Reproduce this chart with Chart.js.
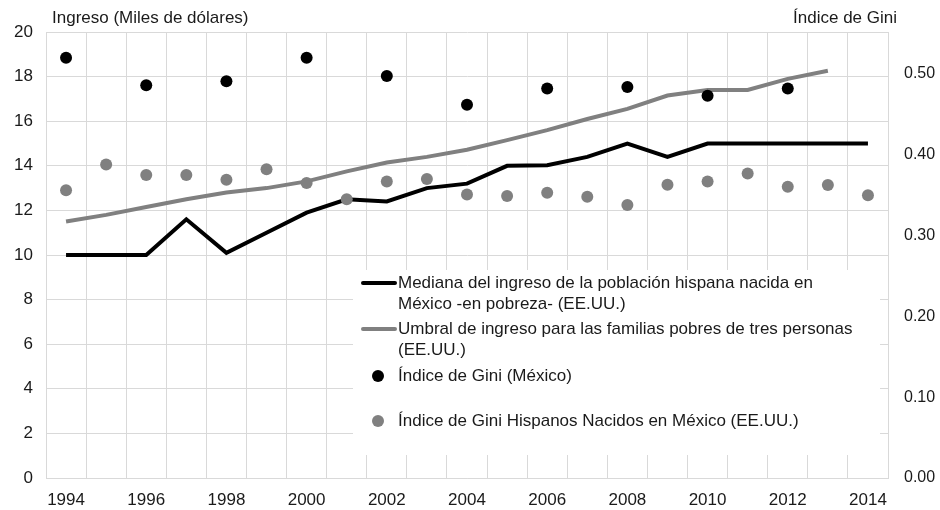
<!DOCTYPE html>
<html>
<head>
<meta charset="utf-8">
<script src="https://cdn.jsdelivr.net/npm/chart.js@4/dist/chart.umd.min.js"></script>
<style>
  html, body { margin: 0; padding: 0; background: #fff; }
  #wrap { width: 940px; height: 510px; }
</style>
</head>
<body>
<div id="wrap"><canvas id="c" width="940" height="510"></canvas></div>
<script>
'use strict';

/* ── Data ──────────────────────────────────────────────────── */
const years = [1994, 1995, 1996, 1997, 1998, 1999, 2000, 2001, 2002, 2003, 2004,
               2005, 2006, 2007, 2008, 2009, 2010, 2011, 2012, 2013, 2014];

// Miles de dólares (left axis)
const medianIncome = [10.0, 10.0, 10.0, 11.6, 10.1, 11.0, 11.9, 12.5, 12.4, 13.0, 13.2,
                      14.0, 14.03, 14.4, 15.0, 14.4, 15.0, 15.0, 15.0, 15.0, 15.0];
const povertyLine  = [11.5, 11.8, 12.15, 12.5, 12.8, 13.0, 13.3, 13.75, 14.15, 14.4, 14.72,
                      15.15, 15.6, 16.1, 16.55, 17.15, 17.4, 17.4, 17.9, 18.26, null];

// Gini (right axis)
const giniMexico   = [0.520, null, 0.486, null, 0.491, null, 0.520, null, 0.4975, null, 0.462,
                      null, 0.482, null, 0.484, null, 0.473, null, 0.482, null, null];
const giniHispanic = [0.356, 0.388, 0.375, 0.375, 0.369, 0.382, 0.365, 0.345, 0.367, 0.370, 0.351,
                      0.349, 0.353, 0.348, 0.338, 0.363, 0.367, 0.377, 0.3605, 0.3626, 0.350];

const leftTicks  = [0, 2, 4, 6, 8, 10, 12, 14, 16, 18, 20];
const rightTicks = [0, 0.1, 0.2, 0.3, 0.4, 0.5];

const legendLines = [
  ['Mediana del ingreso de la población hispana nacida en', 'México -en pobreza- (EE.UU.)'],
  ['Umbral de ingreso para las familias pobres de tres personas', '(EE.UU.)'],
  ['Índice de Gini (México)'],
  ['Índice de Gini Hispanos Nacidos en México (EE.UU.)'],
];

const FONT  = '"Liberation Sans", Arial, sans-serif';
const GRID  = '#d9d9d9';
const GRAY  = '#808080';
const INK   = '#1a1a1a';

/* ── Axis titles ───────────────────────────────────────────── */
const titlesPlugin = {
  id: 'axisTitles',
  afterDraw(ch) {
    const ctx = ch.ctx;
    ctx.save();
    ctx.font = `17px ${FONT}`;
    ctx.fillStyle = INK;
    ctx.textBaseline = 'middle';
    ctx.textAlign = 'left';
    ctx.fillText('Ingreso (Miles de dólares)', 52, 18);
    ctx.textAlign = 'right';
    ctx.fillText('Índice de Gini', 897, 18);
    ctx.restore();
  }
};

/* ── Legend box drawn inside the plot ──────────────────────── */
const legendPlugin = {
  id: 'boxLegend',
  afterDatasetsDraw(ch) {
    const ctx = ch.ctx;
    ctx.save();
    ctx.fillStyle = '#fff';
    ctx.fillRect(353, 270, 527, 185);

    ctx.font = `17px ${FONT}`;
    ctx.fillStyle = INK;
    ctx.textBaseline = 'middle';
    ctx.textAlign = 'left';

    const rows = [283, 329, 376, 421];
    ch.data.datasets.forEach((ds, i) => {
      const y = rows[i];
      if (ds.showLine === false) {
        ctx.beginPath();
        ctx.arc(378, y, 6, 0, Math.PI * 2);
        ctx.fillStyle = ds.backgroundColor;
        ctx.fill();
      } else {
        ctx.beginPath();
        ctx.strokeStyle = ds.borderColor;
        ctx.lineWidth = ds.borderWidth;
        ctx.lineCap = 'round';
        ctx.moveTo(363, y);
        ctx.lineTo(395, y);
        ctx.stroke();
      }
      ctx.fillStyle = INK;
      legendLines[i].forEach((t, k) => ctx.fillText(t, 398, y + k * 21.5));
    });
    ctx.restore();
  }
};

new Chart(document.getElementById('c').getContext('2d'), {
  type: 'line',
  data: {
    labels: years,
    datasets: [
      {
        label: legendLines[0].join(' '),
        data: medianIncome,
        yAxisID: 'y',
        borderColor: '#000',
        backgroundColor: '#000',
        borderWidth: 4,
        pointRadius: 0,
        tension: 0,
        order: 2,
      },
      {
        label: legendLines[1].join(' '),
        data: povertyLine,
        yAxisID: 'y',
        borderColor: GRAY,
        backgroundColor: GRAY,
        borderWidth: 4,
        pointRadius: 0,
        tension: 0,
        order: 3,
      },
      {
        label: legendLines[2].join(' '),
        data: giniMexico,
        yAxisID: 'y1',
        showLine: false,
        borderColor: '#000',
        backgroundColor: '#000',
        pointRadius: 6,
        pointBorderWidth: 0,
        order: 1,
      },
      {
        label: legendLines[3].join(' '),
        data: giniHispanic,
        yAxisID: 'y1',
        showLine: false,
        borderColor: GRAY,
        backgroundColor: GRAY,
        pointRadius: 6,
        pointBorderWidth: 0,
        order: 0,
      },
    ]
  },
  plugins: [legendPlugin, titlesPlugin],
  options: {
    responsive: false,
    animation: false,
    events: [],
    layout: { padding: { top: 32, left: 0, right: 0, bottom: 0 } },
    plugins: { legend: { display: false }, tooltip: { enabled: false } },
    scales: {
      x: {
        type: 'category',
        offset: true,
        grid: { color: GRID, offset: true, drawTicks: false, lineWidth: 1 },
        border: { color: GRID },
        ticks: {
          color: INK,
          font: { size: 17, family: FONT },
          padding: 12,
          maxRotation: 0,
          autoSkip: false,
          callback(v) { const yr = years[v]; return yr % 2 === 0 ? String(yr) : ''; }
        },
        afterFit(s) { s.height = 32; }
      },
      y: {
        position: 'left',
        min: leftTicks[0],
        max: leftTicks[leftTicks.length - 1],
        afterBuildTicks(s) { s.ticks = leftTicks.map(v => ({ value: v })); },
        grid: { color: GRID, drawTicks: false },
        border: { color: GRID },
        ticks: { color: INK, font: { size: 17, family: FONT }, padding: 13 },
        afterFit(s) { s.width = 46; }
      },
      y1: {
        position: 'right',
        min: 0,
        max: 0.552,
        afterBuildTicks(s) { s.ticks = rightTicks.map(v => ({ value: v })); },
        grid: { display: false, drawTicks: false },
        border: { display: false },
        ticks: {
          color: INK,
          font: { size: 16, family: FONT },
          padding: 16,
          callback: v => v.toFixed(2)
        },
        afterFit(s) { s.width = 52; }
      }
    }
  }
});
</script>
</body>
</html>
